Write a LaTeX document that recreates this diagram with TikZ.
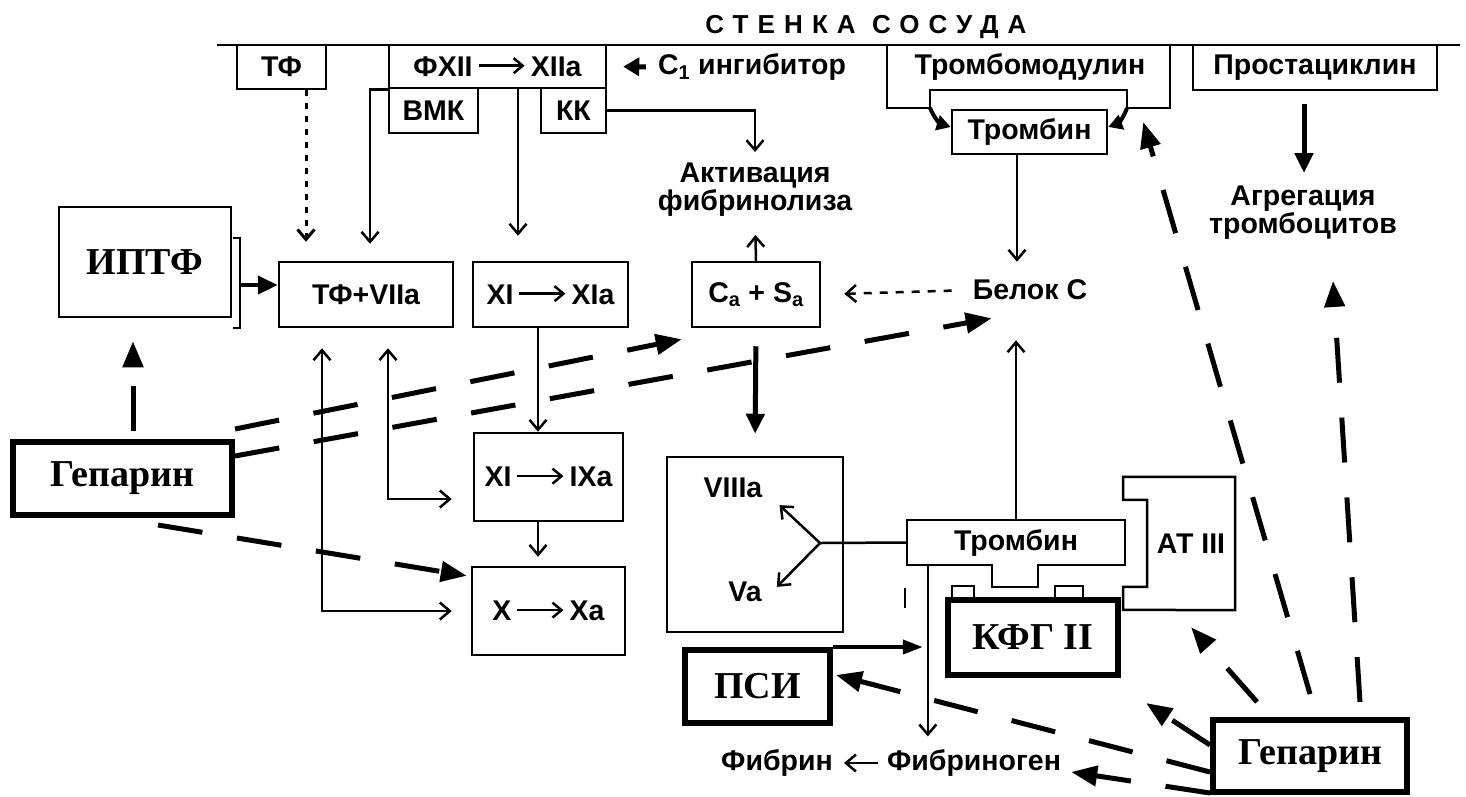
\documentclass[tikz,border=0pt]{standalone}
\usepackage{fontspec}
\setmainfont{Liberation Serif}
\setsansfont{Liberation Sans}
\usetikzlibrary{arrows.meta}
\newcommand{\rto}[1][46pt]{\,\tikz[baseline=-0.7ex]\draw[line width=2.5pt,-{Straight Barb[length=9pt,width=15pt]}] (0,0)--(#1,0);\,}
\begin{document}
\begin{tikzpicture}[x=1pt,y=-1pt,
>={Straight Barb[length=10pt,width=17pt]},
box/.style={draw,line width=2.5pt,inner sep=0pt,font=\sffamily\bfseries\fontsize{28.5}{28.5}\selectfont},
lbl/.style={inner sep=0pt,align=center,font=\sffamily\bfseries\fontsize{28.5}{28}\selectfont},
hbox/.style={draw,line width=6pt,inner sep=0pt,font=\rmfamily\bfseries\fontsize{38}{38}\selectfont},
arr/.style={line width=2.5pt,->},
arr2/.style={line width=2.5pt,<->},
dotarr/.style={line width=3pt,->,dash pattern=on 6pt off 7pt},
fatarr/.style={line width=5pt,-{Triangle[length=20pt,width=18pt]}},
heparr/.style={line width=5pt,dash pattern=on 45pt off 35pt,-{Triangle[length=26pt,width=20pt]}}
]
\useasboundingbox (0,0) rectangle (1466,796);

% vessel wall
\node[lbl,font=\sffamily\bfseries\fontsize{26}{26}\selectfont\addfontfeature{LetterSpace=35}] (wall) at (866,27) {СТЕНКА СОСУДА};
\draw[line width=2.5pt] (217,45) -- (1460,45);

\node[box,minimum width=89pt,minimum height=44pt] (tf) at (281.5,67) {ТФ};
\node[box,minimum width=217pt,minimum height=43pt] (fxii) at (497.5,66.5) {ФХII\rto XIIa};
\node[box,minimum width=89pt,minimum height=45pt] (vmk) at (433.5,110.5) {ВМК};
\node[box,minimum width=65pt,minimum height=45pt] (kk) at (573.5,110.5) {КК};
\node[lbl] (c1) at (752,67) {С\textsubscript{1} ингибитор};

\node[lbl] (tm) at (1030,67) {Тромбомодулин};
\draw[line width=2.5pt] (887,45) |- (930,108) |- (1127,90) |- (1170,108) -- (1170,45);
\coordinate (tmL) at (930,108);
\coordinate (tmR) at (1127,108);
\node[box,minimum width=155pt,minimum height=44pt] (trombin1) at (1029.5,132) {Тромбин};
\node[box,minimum width=244pt,minimum height=45pt] (prost) at (1315,67.5) {Простациклин};
\node[lbl] (agreg) at (1303,213) {Агрегация\\тромбоцитов};
\node[lbl] (aktiv) at (755,190) {Активация\\фибринолиза};

\node[draw,line width=2.5pt,inner sep=0pt,minimum width=172pt,minimum height=110pt,
  font=\rmfamily\bfseries\fontsize{38}{38}\selectfont] (iptf) at (145,262) {ИПТФ};
\draw[line width=2.5pt] (233,238) -| (240,328) -- (233,328);
\coordinate (brk) at (240,285);
\node[box,minimum width=174pt,minimum height=65pt] (tfvii) at (366,294.5) {ТФ+VIIa};
\node[box,minimum width=155pt,minimum height=65pt] (xia) at (550.5,294.5) {XI\rto XIa};
\node[box,minimum width=128pt,minimum height=65pt] (casa) at (756,294.5) {C\textsubscript{a} + S\textsubscript{a}};
\node[lbl] (belok) at (1030,290) {Белок С};
\node[box,minimum width=149pt,minimum height=88pt] (xiixa) at (548.5,477) {XI\rto IXa};
\node[box,minimum width=153pt,minimum height=88pt] (xxa) at (548.5,611) {X\rto Xa};
\node[hbox,minimum width=219pt,minimum height=73pt] (hepL) at (122.5,478.5) {Гепарин};

\node[draw,line width=2.5pt,minimum width=176pt,minimum height=175pt] (v8) at (755,544.5) {};
\node[lbl] (v8a) at (733,488) {VIIIa};
\node[lbl] (va) at (745,592) {Va};
\coordinate (fork) at (820,543);

\node[lbl,minimum width=218pt,minimum height=45pt] (trombin2) at (1016,542.5) {Тромбин};
\draw[line width=2.5pt] (trombin2.north west) -- (trombin2.north east) -- (trombin2.south east)
  -- ++(-87,0) -- ++(0,22) -- ++(-46,0) -- ++(0,-22) -- (trombin2.south west) -- cycle;
\node[lbl,minimum width=88pt,minimum height=133pt] (at3) at (1191,543.5) {АТ III};
\draw[line width=2.5pt] (at3.north east) -- ++(-112,0) -- ++(0,23) -- ++(24,0) -- ++(0,87)
  -- ++(-24,0) -- ++(0,23) -- (at3.south east) -- cycle;
\draw[line width=2.5pt] (952,598) |- (974,586) -- (974,598);
\draw[line width=2.5pt] (1055,598) |- (1083,586) -- (1083,598);
\node[hbox,minimum width=170pt,minimum height=75pt] (kfg) at (1033,637.5) {КФГ II};
\node[hbox,minimum width=145pt,minimum height=73pt] (psi) at (757.5,686.5) {ПСИ};
\node[lbl] (fibrin) at (777,763) {Фибрин};
\node[lbl] (fibrinogen) at (974,763) {Фибриноген};
\node[hbox,minimum width=194pt,minimum height=72pt] (hepR) at (1310,756) {Гепарин};
\coordinate (fibtop) at ([xshift=21pt]trombin2.south west);
\draw[line width=2.5pt] (905,588) -- (905,608);

% top part
\draw[dotarr,shorten >=19pt] ([xshift=24.5pt]tf.south) -- ([xshift=24.5pt]tf.south |- tfvii.north);
\draw[arr] (fxii.south west) -| ([xshift=4pt,yshift=17pt]tfvii.north);
\draw[arr,shorten >=25pt] ([xshift=20.5pt]fxii.south) -- ([xshift=20.5pt]fxii.south |- xia.north);
\draw[arr,shorten >=11pt] (kk.east) -| (aktiv.north);
\draw[line width=5pt,-{Triangle[length=16pt,width=18pt]},shorten <=12pt,shorten >=16pt] (c1.west) -- (fxii.east);
\draw[line width=4pt,-{Triangle[length=14pt,width=15pt]}] (tmL) to[bend right=25] ([yshift=5pt]trombin1.west);
\draw[line width=4pt,-{Triangle[length=14pt,width=15pt]}] (tmR) to[bend left=25] ([yshift=5pt]trombin1.east);
\draw[fatarr,shorten <=13pt,shorten >=13pt] ([xshift=-11pt]prost.south) -- ([xshift=-11pt]prost.south |- agreg.north);
\draw[arr,shorten >=18pt] (casa.north) -- (aktiv.south);
\draw[arr,shorten >=18pt] ([xshift=-12.5pt]trombin1.south) -- ([xshift=-12.5pt]trombin1.south |- belok.north);
\draw[arr,shorten >=40pt] (trombin2.north) -- (trombin2.north |- belok.south);
\draw[line width=2.5pt,->,dash pattern=on 8pt off 8pt,shorten <=21pt,shorten >=23pt] (belok.west) -- (casa.east);

% middle part
\draw[line width=4.5pt,-{Triangle[length=20pt,width=18pt]}] (brk) -- ([yshift=9.5pt]tfvii.west);
\draw[arr2] ([xshift=-44pt,yshift=-20pt]tfvii.south) |- ([xshift=-19pt]xxa.west);
\draw[arr2] ([xshift=22pt,yshift=-20pt]tfvii.south) |- ([xshift=-21pt,yshift=-22pt]xiixa.west);
\draw[arr] ([xshift=-12.5pt]xia.south) -- ([xshift=-12.5pt]xia.south |- xiixa.north);
\draw[arr,shorten >=9pt] ([xshift=-10.5pt]xiixa.south) -- ([xshift=-10.5pt]xiixa.south |- xxa.north);
\draw[fatarr,shorten <=18pt,shorten >=22pt] (casa.south) -- (v8.north);
\draw[line width=2.5pt] (trombin2.west) -- (fork);
\draw[arr] (fork) -- ([xshift=17pt,yshift=-7pt]v8a.south east);
\draw[arr] (fork) -- ([xshift=15pt,yshift=-5pt]va.north east);
\draw[arr,shorten >=13pt] (fibtop) -- (fibtop |- fibrinogen.north);
\draw[line width=4pt,-{Triangle[length=20pt,width=14pt]}] (psi.north east) -- ([xshift=-5pt]psi.north east -| fibtop);
\draw[arr,shorten <=9pt,shorten >=11pt] (fibrinogen.west) -- (fibrin.east);

% heparin
\draw[heparr,shorten <=8pt] ([xshift=10.5pt]hepL.north) -- ([xshift=-12pt,yshift=-23pt]iptf.south);
\draw[heparr] ([yshift=10pt]hepL.north east) -- ([xshift=-9pt,yshift=-11pt]casa.south west);
\draw[heparr] ([yshift=-17pt]hepL.north east) -- ([xshift=19pt,yshift=-18pt]belok.south west);
\draw[heparr] ([xshift=35.5pt,yshift=-7pt]hepL.south) -- ([xshift=-4pt,yshift=-10pt]xxa.north west);
\draw[heparr] ([yshift=23pt]hepR.north) -- ([xshift=35pt,yshift=10pt]trombin1.east);
\draw[heparr] ([xshift=-50pt,yshift=15pt]hepR.north east) -- ([xshift=30pt,yshift=-41pt]agreg.south);
\draw[heparr] ([xshift=47pt,yshift=15pt]hepR.north west) -- ([yshift=-17pt]at3.south);
\draw[heparr] ([yshift=11pt]hepR.west) -- ([xshift=25pt,yshift=-25pt]kfg.south east);
\draw[heparr] ([yshift=-16pt]hepR.west) -- ([xshift=3pt,yshift=11.5pt]psi.east);
\draw[heparr] ([yshift=2pt]hepR.south west) -- ([xshift=10pt,yshift=-9pt]fibrinogen.east);
\end{tikzpicture}
\end{document}
